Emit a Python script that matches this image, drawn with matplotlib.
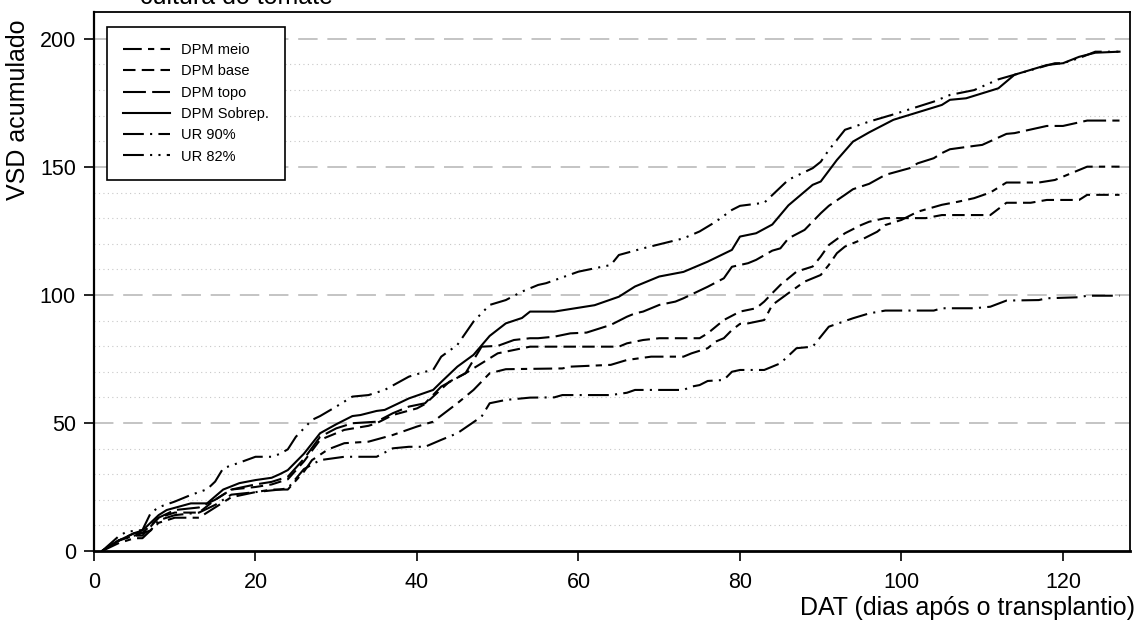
import matplotlib
matplotlib.use("Agg")
import matplotlib.pyplot as plt

plt.rcParams['font.family'] = ['Liberation Sans', 'DejaVu Sans']

# ---------------- data ----------------
sob_d = [1, 3, 5, 6, 8, 9, 12, 14, 16, 18, 20, 22, 23, 24, 26, 28, 30, 32, 33, 35, 36, 39, 42, 43, 45, 47, 49, 51, 53, 54, 57, 58, 62, 65, 67, 70, 73, 76, 79, 80, 82, 84, 86, 89, 90, 92, 94, 96, 99, 105, 106, 108, 112, 114, 118, 120, 122, 124, 127]
sob_v = [0, 4, 7, 8, 14, 16, 18.6, 18.6, 24, 26.5, 27.7, 28.6, 30, 31.6, 38, 46, 49.5, 52.7, 53.1, 54.7, 55.1, 59.6, 62.9, 66, 72, 76.6, 84, 88.9, 91, 93.5, 93.5, 94, 96, 99.3, 103.3, 107.2, 109, 113, 117.6, 122.8, 124.1, 127.5, 135, 143, 144.3, 152.7, 159.9, 163.5, 168.4, 174.2, 176.2, 176.8, 180.7, 186, 189.8, 190.5, 193, 194.6, 195]

ur82_d = [1, 3, 4, 6, 7, 8, 10, 12, 14, 15, 16, 18, 20, 22, 23, 24, 25, 27, 28, 30, 32, 34, 36, 39, 41, 42, 43, 45, 47, 49, 51, 53, 55, 56, 60, 62, 64, 65, 68, 73, 75, 77, 79, 80, 83, 84, 86, 89, 90, 91, 93, 96, 99, 104, 106, 109, 112, 114, 119, 120, 122, 124, 127]
ur82_v = [0, 5.6, 7.5, 8.2, 14.7, 17.1, 19.3, 21.9, 24.1, 27.1, 32.3, 34.5, 36.8, 36.8, 37.9, 39.7, 44.6, 51.2, 52.7, 56.4, 60.3, 60.9, 62.9, 68.1, 70, 70.7, 75.9, 80.5, 89.6, 96.1, 98, 101.3, 103.9, 104.6, 109.1, 110.4, 111.7, 115.6, 118.2, 122.1, 124.8, 128.6, 133.2, 134.8, 136, 139, 145, 149.5, 152, 156.6, 164.5, 167.7, 170.5, 175.5, 178.1, 180, 184.2, 186, 190.5, 190.5, 192.5, 195, 195]

topo_d = [1, 3, 5, 6, 8, 10, 13, 15, 17, 20, 22, 24, 26, 28, 30, 32, 35, 37, 39, 41, 43, 46, 48, 50, 52, 54, 55, 57, 59, 61, 64, 66, 67, 68, 70, 72, 73, 76, 78, 79, 81, 82, 84, 85, 86, 88, 90, 91, 93, 94, 96, 98, 101, 102, 104, 105, 106, 109, 110, 113, 114, 118, 120, 123, 127]
topo_v = [0, 4, 7, 7, 13, 16, 17, 20, 24, 26, 27, 29, 36, 44.6, 47.9, 49.9, 50.5, 53.8, 56.4, 57.7, 64.2, 69.4, 79.8, 80.1, 82.4, 83.1, 83.1, 83.7, 85, 85.3, 88.3, 91.5, 92.8, 93.5, 96.1, 97.4, 98.7, 103.2, 106.5, 111, 112.4, 113.7, 117.3, 118.2, 122.1, 125.4, 131.9, 134.8, 139.1, 141.3, 143.4, 146.9, 149.5, 151.4, 153.4, 155.4, 156.9, 158.2, 158.6, 162.9, 163.2, 166, 166, 168.1, 168.1]

base_d = [1, 3, 5, 6, 8, 10, 13, 15, 17, 20, 22, 24, 26, 28, 31, 34, 35, 37, 40, 41, 44, 46, 50, 52, 54, 65, 66, 68, 70, 75, 76, 77, 78, 80, 82, 83, 84, 85, 87, 89, 90, 91, 93, 95, 96, 98, 103, 105, 111, 113, 116, 118, 122, 123, 127]
base_v = [0, 4, 6, 6, 13, 15, 15, 20, 24, 25, 26, 28, 35, 43.4, 47.3, 48.9, 49.9, 53.1, 55.7, 57.4, 66.1, 69.4, 77.2, 78.5, 79.8, 79.8, 81.1, 82.4, 83.1, 83.1, 85, 87.6, 90.2, 93.5, 94.8, 97.4, 100.7, 103.9, 109.1, 111.1, 115, 119.5, 124.1, 127.3, 128.6, 130, 130, 131.2, 131.2, 136, 136, 137.1, 137.1, 139.1, 139.1]

meio_d = [1, 3, 5, 6, 8, 10, 13, 15, 17, 20, 22, 24, 26, 27, 29, 31, 34, 37, 40, 42, 45, 47, 49, 51, 58, 59, 64, 66, 69, 73, 74, 76, 77, 78, 79, 80, 81, 83, 84, 86, 88, 90, 91, 92, 93, 95, 97, 98, 100, 102, 105, 107, 109, 111, 113, 117, 119, 121, 123, 127]
meio_v = [0, 3, 5, 5, 11, 13, 13, 17, 21, 23, 24, 24, 31, 35.5, 39.7, 42.1, 42.7, 45.3, 48.6, 50.5, 57.7, 62.9, 69.4, 71, 71.3, 72, 72.7, 74.6, 75.9, 75.9, 77.2, 79.2, 81.8, 83.1, 86.3, 88.7, 88.9, 90.2, 96.1, 100.7, 105.2, 107.8, 111.7, 116.3, 118.9, 121.5, 124.7, 127.3, 129.3, 132.5, 135.2, 136.4, 137.8, 140, 143.9, 143.9, 144.9, 147.5, 150.1, 150.1]

ur90_d = [1, 3, 5, 7, 8, 10, 13, 15, 17, 20, 23, 24, 26, 28, 31, 35, 37, 39, 41, 43, 45, 48, 49, 51, 54, 57, 58, 64, 66, 67, 73, 74, 75, 76, 78, 79, 80, 83, 84, 85, 87, 89, 91, 94, 96, 98, 104, 105, 109, 111, 113, 117, 118, 122, 123, 127]
ur90_v = [0, 4, 6, 8, 12, 14, 15, 18, 22, 23, 24, 24.5, 32, 35.5, 36.8, 36.8, 40.1, 40.7, 40.7, 43.4, 46, 52.5, 57.7, 59, 59.9, 60, 60.9, 60.9, 61.8, 62.9, 62.9, 64.2, 64.8, 66.4, 66.8, 70, 70.7, 70.7, 72, 73.3, 79.2, 79.8, 87.6, 90.9, 92.8, 93.9, 93.9, 94.8, 94.8, 95.4, 97.8, 98, 98.7, 99.1, 99.7, 99.7]

labels = ["DPM meio", "DPM base", "DPM topo", "DPM Sobrep.", "UR 90%", "UR 82%"]
x_ticks = [0, 20, 40, 60, 80, 100, 120]
y_ticks = [0, 50, 100, 150, 200]

# ---------------- figure ----------------
fig = plt.figure(figsize=(11.38, 6.21), dpi=100)
ax = fig.add_axes([94/1138, 1-551/621, (1130-94)/1138, (551-12)/621])

styles = {
    "DPM meio": (0, (9, 3, 3, 3)),
    "DPM base": (0, (6, 3)),
    "DPM topo": (0, (11, 3)),
    "DPM Sobrep.": "-",
    "UR 90%": (0, (10, 3, 1, 3)),
    "UR 82%": (0, (10, 3, 1, 3, 1, 3)),
}
series = {
    "DPM meio": (meio_d, meio_v),
    "DPM base": (base_d, base_v),
    "DPM topo": (topo_d, topo_v),
    "DPM Sobrep.": (sob_d, sob_v),
    "UR 90%": (ur90_d, ur90_v),
    "UR 82%": (ur82_d, ur82_v),
}

# grid
for y in range(10, 210, 10):
    if y % 50 == 0:
        ax.axhline(y, color="#c4c4c4", lw=1.4, ls=(0, (10, 5)), zorder=0)
    else:
        ax.axhline(y, color="#c8c8c8", lw=0.8, ls=(0, (1, 3)), zorder=0)

handles = []
for lab in labels:
    d, v = series[lab]
    ln, = ax.plot(d, v, color="black", lw=1.5, ls=styles[lab], label=lab)
    handles.append(ln)

ax.set_xlim(0, 128.3)
ax.set_ylim(0, 210.5)
ax.set_xticks(x_ticks)
ax.set_yticks(y_ticks)
ax.tick_params(axis="both", direction="out", length=7, width=1.2, labelsize=15.5)
ax.tick_params(axis="x", pad=8)
ax.tick_params(axis="y", pad=6)
for s in ax.spines.values():
    s.set_linewidth(1.3)
ax.spines["bottom"].set_linewidth(2)
ax.spines["left"].set_linewidth(1.6)

ax.set_ylabel("VSD acumulado", fontsize=18, va="center")
ax.yaxis.set_label_coords(-0.073, 0.818)
ax.set_xlabel("DAT (dias após o transplantio)", fontsize=18, ha="right", va="center")
ax.xaxis.set_label_coords(1.005, -0.106)

leg = ax.legend(handles=handles, loc="upper left", bbox_to_anchor=(0.0125, 0.972),
                borderaxespad=0, fancybox=False, framealpha=1, edgecolor="black",
                fontsize=10.5, handlelength=3.2, labelspacing=0.5, borderpad=1.1,
                handletextpad=0.8)
leg.get_frame().set_linewidth(1.2)

fig.text(140/1138, 1.0 + 3/621, "cultura do tomate", fontsize=18, va="center", ha="left")

fig.savefig("out.png", dpi=100)
